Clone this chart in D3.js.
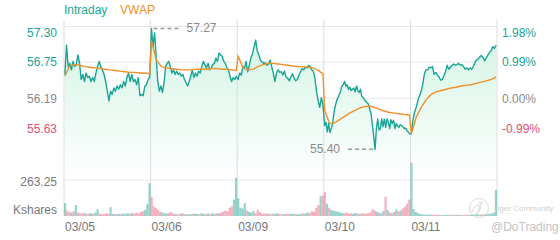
<!DOCTYPE html>
<html>
<head>
<meta charset="utf-8">
<script src="https://cdn.jsdelivr.net/npm/d3@7"></script>
<style>
body { margin: 0; background: #fff; }
svg { display: block; font-family: "Liberation Sans", Arial, sans-serif; }
</style>
</head>
<body>
<svg width="560" height="240"></svg>
<script>
// ---- data ----
var days = ["03/05", "03/06", "03/09", "03/10", "03/11"];
var prevClose = 56.19;
var priceTicks = [57.30, 56.75, 56.19, 55.63];
var pctTicks = ["1.98%", "0.99%", "0.00%", "-0.99%"];
var volTick = 263.25;

var price0305 = [56.56, 57.01, 56.68, 56.73, 56.63, 56.76, 56.68, 56.71, 56.86, 56.73, 56.48, 56.56, 56.45, 56.58, 56.51, 56.53, 56.45, 56.51, 56.45, 56.58, 56.68, 56.76, 56.68, 56.63, 56.56, 56.45, 56.30, 56.15, 56.30, 56.25, 56.35, 56.30, 56.38, 56.33, 56.40, 56.35, 56.45, 56.38, 56.51, 56.58, 56.45, 56.56, 56.45, 56.48, 56.40, 56.51, 56.23, 56.25, 56.23, 56.38, 56.40, 56.48, 56.52];
var price0306 = [57.27, 56.99, 57.20, 56.84, 56.45, 56.30, 56.38, 56.28, 56.43, 56.68, 56.73, 56.76, 56.68, 56.58, 56.63, 56.56, 56.61, 56.56, 56.58, 56.53, 56.56, 56.48, 56.43, 56.38, 56.45, 56.53, 56.63, 56.51, 56.58, 56.53, 56.61, 56.58, 56.68, 56.76, 56.71, 56.66, 56.73, 56.63, 56.66, 56.71, 56.73, 56.81, 56.76, 56.89, 56.86, 56.84, 56.76, 56.73, 56.66, 56.63, 56.53, 56.45, 56.51, 56.48, 56.53];
var price0309 = [56.48, 56.58, 56.55, 56.68, 56.66, 56.76, 56.60, 56.70, 56.81, 56.88, 56.98, 57.09, 56.92, 56.86, 56.78, 56.75, 56.73, 56.74, 56.70, 56.72, 56.78, 56.68, 56.58, 56.45, 56.58, 56.63, 56.59, 56.60, 56.55, 56.61, 56.52, 56.50, 56.46, 56.52, 56.57, 56.50, 56.46, 56.48, 56.55, 56.60, 56.65, 56.63, 56.67, 56.66, 56.70, 56.68, 56.63, 56.61, 56.50, 56.30, 56.15, 56.05, 56.20, 56.10];
var price0310 = [55.77, 55.82, 55.67, 55.80, 55.66, 55.72, 55.80, 55.97, 56.07, 56.15, 56.20, 56.25, 56.30, 56.38, 56.40, 56.45, 56.38, 56.40, 56.33, 56.36, 56.31, 56.33, 56.35, 56.29, 56.38, 56.31, 56.28, 56.33, 56.22, 56.20, 56.17, 56.14, 56.12, 56.10, 56.02, 55.95, 55.77, 55.60, 55.40, 55.72, 55.87, 55.70, 55.72, 55.87, 55.75, 55.87, 55.74, 55.87, 55.82, 55.72, 55.86, 55.80, 55.85, 55.72, 55.80, 55.76, 55.74, 55.78, 55.77, 55.75, 55.72, 55.73, 55.69, 55.67, 55.64];
var price0311 = [55.64, 55.85, 55.97, 56.05, 56.15, 56.23, 56.29, 56.40, 56.56, 56.63, 56.63, 56.67, 56.66, 56.68, 56.56, 56.59, 56.55, 56.52, 56.47, 56.48, 56.54, 56.60, 56.70, 56.64, 56.67, 56.70, 56.72, 56.70, 56.71, 56.73, 56.70, 56.71, 56.68, 56.64, 56.66, 56.63, 56.66, 56.64, 56.68, 56.74, 56.78, 56.80, 56.83, 56.85, 56.82, 56.77, 56.82, 56.86, 56.90, 56.93, 56.99, 56.96, 57.01];

var vwap0305 = [56.53, 56.70, 56.71, 56.70, 56.68, 56.67, 56.66, 56.65, 56.64, 56.63, 56.62, 56.61, 56.60, 56.59, 56.59, 56.58, 56.58, 56.57];
var vwap0306 = [57.08, 56.78, 56.68, 56.66, 56.65, 56.64, 56.63, 56.63, 56.63, 56.64, 56.64, 56.64, 56.65, 56.65, 56.64, 56.64, 56.63, 56.62];
var vwap0309 = [56.84, 56.66, 56.63, 56.64, 56.68, 56.71, 56.73, 56.73, 56.72, 56.71, 56.70, 56.69, 56.68, 56.68, 56.67, 56.66, 56.62, 56.57];
var vwap0310 = [56.00, 55.80, 55.81, 55.86, 55.91, 55.96, 56.00, 56.04, 56.06, 56.07, 56.05, 56.02, 55.99, 55.97, 55.96, 55.95, 55.94, 55.93];
var vwap0311 = [55.64, 55.90, 56.05, 56.17, 56.25, 56.29, 56.31, 56.33, 56.35, 56.36, 56.38, 56.39, 56.40, 56.42, 56.44, 56.46, 56.48, 56.52];

// volume in Kshares, 40 bars per day
var vol0305 = [95, 40, 30, 25, 35, 80, 25, 20, 18, 22, 15, 18, 20, 16, 25, 50, 18, 15, 14, 20, 16, 65, 15, 14, 12, 16, 14, 18, 15, 20, 17, 22, 18, 25, 20, 30, 35, 45, 90, 240];
var vol0306 = [140, 70, 60, 45, 30, 25, 20, 18, 22, 30, 18, 15, 14, 16, 20, 15, 13, 12, 14, 16, 18, 15, 14, 20, 16, 15, 18, 14, 20, 16, 22, 18, 25, 30, 40, 35, 60, 70, 120, 280];
var vol0309 = [130, 60, 55, 95, 40, 30, 25, 35, 20, 45, 30, 18, 15, 20, 16, 14, 18, 15, 20, 14, 12, 15, 13, 16, 14, 18, 15, 14, 12, 16, 20, 18, 25, 22, 35, 30, 60, 80, 145, 150];
var vol0310 = [175, 90, 60, 45, 40, 35, 30, 25, 22, 20, 25, 18, 20, 16, 22, 18, 15, 20, 18, 16, 22, 25, 50, 40, 30, 25, 20, 35, 140, 45, 25, 20, 30, 50, 35, 40, 55, 70, 90, 120];
var vol0311 = [390, 50, 30, 20, 15, 12, 10, 12, 9, 10, 8, 9, 10, 8, 7, 9, 8, 10, 7, 8, 9, 8, 10, 7, 8, 9, 10, 8, 9, 10, 12, 9, 10, 12, 11, 14, 15, 18, 25, 190];

var priceDays = [price0305, price0306, price0309, price0310, price0311];
var vwapDays = [vwap0305, vwap0306, vwap0309, vwap0310, vwap0311];
var volDays = [vol0305, vol0306, vol0309, vol0310, vol0311];

// ---- layout ----
var svg = d3.select("svg");
var left = 64, right = 497;
var pTop = 26.5, pBot = 134.5;
var vTop = 180, vBot = 216;
var teal = "#17a596", red = "#e4506f", grey = "#8a8a8a", orange = "#f0902a";

var x = d3.scaleLinear().domain([0, days.length]).range([left, right]);
var y = d3.scaleLinear().domain([priceTicks[3], priceTicks[0]]).range([pBot, pTop]);
var yv = d3.scaleLinear().domain([0, volTick]).range([vBot, vTop]);

function toPoints(groups) {
    var out = [];
    groups.forEach(function(arr, d) {
        arr.forEach(function(v, i) {
            out.push({t: d + 0.01 + 0.98 * i / (arr.length - 1), v: v});
        });
    });
    return out;
}
var pricePts = toPoints(priceDays);
var vwapPts = toPoints(vwapDays);

function priceAt(d, f) {
    var arr = priceDays[d];
    var idx = f * (arr.length - 1);
    var lo = Math.floor(idx), hi = Math.min(arr.length - 1, lo + 1);
    return arr[lo] + (arr[hi] - arr[lo]) * (idx - lo);
}

// gradient for area under price line
var defs = svg.append("defs");
var grad = defs.append("linearGradient")
    .attr("id", "fillGrad")
    .attr("gradientUnits", "userSpaceOnUse")
    .attr("x1", 0).attr("x2", 0)
    .attr("y1", pTop).attr("y2", 178);
grad.append("stop").attr("offset", 0).attr("stop-color", "#d2f4e4");
grad.append("stop").attr("offset", 0.6).attr("stop-color", "#ecfaf3");
grad.append("stop").attr("offset", 1).attr("stop-color", "#ffffff");

// grid
svg.append("g").selectAll("line")
    .data(priceTicks)
    .enter().append("line")
    .attr("x1", left).attr("x2", right)
    .attr("y1", function(d) { return y(d); })
    .attr("y2", function(d) { return y(d); })
    .attr("stroke", "#e6e6e6");

svg.append("line")
    .attr("x1", left).attr("x2", right)
    .attr("y1", yv(volTick)).attr("y2", yv(volTick))
    .attr("stroke", "#e6e6e6");

// area + lines
var area = d3.area()
    .x(function(d) { return x(d.t); })
    .y0(178)
    .y1(function(d) { return y(d.v); });
svg.append("path")
    .datum(pricePts)
    .attr("d", area)
    .attr("fill", "url(#fillGrad)");

svg.append("g").selectAll("line")
    .data(d3.range(days.length + 1))
    .enter().append("line")
    .attr("x1", function(d) { return x(d); })
    .attr("x2", function(d) { return x(d); })
    .attr("y1", 20).attr("y2", vBot)
    .attr("stroke", "#dcdcdc");

// volume bars
var barW = (x(1) - x(0)) / 40;
volDays.forEach(function(arr, d) {
    svg.append("g").selectAll("rect")
        .data(arr)
        .enter().append("rect")
        .attr("x", function(v, k) { return x(d + (k + 0.5) / arr.length) - barW / 2; })
        .attr("width", barW)
        .attr("y", function(v) { return yv(v); })
        .attr("height", function(v) { return vBot - yv(v); })
        .attr("fill", function(v, k) {
            var a = priceAt(d, k / arr.length), b = priceAt(d, (k + 1) / arr.length);
            return b >= a ? "#4fb5a8" : "#ec7d95";
        })
        .attr("opacity", 0.6);
});

var line = d3.line()
    .x(function(d) { return x(d.t); })
    .y(function(d) { return y(d.v); });

svg.append("path")
    .datum(pricePts)
    .attr("d", line)
    .attr("fill", "none")
    .attr("stroke", teal)
    .attr("stroke-width", 1.4)
    .attr("stroke-linejoin", "round");

svg.append("path")
    .datum(vwapPts)
    .attr("d", line)
    .attr("fill", "none")
    .attr("stroke", orange)
    .attr("stroke-width", 1.4);

// high / low markers
var hi = pricePts.reduce(function(a, b) { return b.v > a.v ? b : a; });
var lo = pricePts.reduce(function(a, b) { return b.v < a.v ? b : a; });

svg.append("line")
    .attr("x1", x(hi.t) + 2).attr("x2", x(hi.t) + 30)
    .attr("y1", y(hi.v)).attr("y2", y(hi.v))
    .attr("stroke", "#999").attr("stroke-width", 1.5)
    .attr("stroke-dasharray", "4,3");
svg.append("text")
    .attr("x", x(hi.t) + 35).attr("y", y(hi.v) + 4)
    .attr("fill", grey).attr("font-size", 12)
    .text(hi.v.toFixed(2));

svg.append("line")
    .attr("x1", x(lo.t) - 2).attr("x2", x(lo.t) - 30)
    .attr("y1", y(lo.v)).attr("y2", y(lo.v))
    .attr("stroke", "#999").attr("stroke-width", 1.5)
    .attr("stroke-dasharray", "4,3");
svg.append("text")
    .attr("x", x(lo.t) - 35).attr("y", y(lo.v) + 4)
    .attr("text-anchor", "end")
    .attr("fill", grey).attr("font-size", 12)
    .text(lo.v.toFixed(2));

// axes
function tickColor(d) {
    return d > prevClose ? teal : (d < prevClose ? red : grey);
}
var leftAxis = svg.append("g")
    .attr("transform", "translate(57,0)")
    .call(d3.axisLeft(y).tickValues(priceTicks).tickSize(0).tickPadding(0).tickFormat(d3.format(".2f")));
var rightAxis = svg.append("g")
    .attr("transform", "translate(502,0)")
    .call(d3.axisRight(y).tickValues(priceTicks).tickSize(0).tickPadding(0)
        .tickFormat(function(d, i) { return pctTicks[i]; }));

[leftAxis, rightAxis].forEach(function(g) {
    g.select(".domain").remove();
    g.selectAll("text")
        .attr("font-family", "Liberation Sans, Arial, sans-serif")
        .attr("font-size", 12)
        .attr("fill", function(d) { return tickColor(d); })
        .attr("dy", function(d, i) {
            if (i === 0) return "0.85em";
            if (i === priceTicks.length - 1) return "-0.15em";
            return "0.32em";
        });
});

svg.append("text")
    .attr("x", 57).attr("y", yv(volTick) + 6)
    .attr("text-anchor", "end")
    .attr("fill", "#777").attr("font-size", 12)
    .text(volTick.toFixed(2));
svg.append("text")
    .attr("x", 57).attr("y", 214)
    .attr("text-anchor", "end")
    .attr("fill", "#777").attr("font-size", 12)
    .text("Kshares");

svg.append("g").selectAll("text")
    .data(days)
    .enter().append("text")
    .attr("x", function(d, i) { return x(i) + 1; })
    .attr("y", 231)
    .attr("fill", "#777").attr("font-size", 12)
    .text(function(d) { return d; });

// legend
svg.append("text").attr("x", 64).attr("y", 14)
    .attr("fill", teal).attr("font-size", 12).text("Intraday");
svg.append("text").attr("x", 120).attr("y", 14)
    .attr("fill", orange).attr("font-size", 12).text("VWAP");

// watermark
var wm = svg.append("g").attr("opacity", 0.55);
wm.append("circle").attr("cx", 479).attr("cy", 208).attr("r", 9.5)
    .attr("fill", "none").attr("stroke", "#bbb").attr("stroke-width", 1);
wm.append("path")
    .attr("d", "M472,212 C474,206 478,204 480,206 C482,208 478,213 476,214 M478,203 L483,203 M482,201 L477,215")
    .attr("fill", "none").attr("stroke", "#bbb").attr("stroke-width", 1);
svg.append("text").attr("x", 493).attr("y", 211)
    .attr("fill", "#d0d0d0").attr("font-size", 8).text("Tiger Community");
svg.append("text").attr("x", 491).attr("y", 231)
    .attr("fill", "#c2c2c2").attr("font-size", 12).text("@DoTrading");
</script>
</body>
</html>
